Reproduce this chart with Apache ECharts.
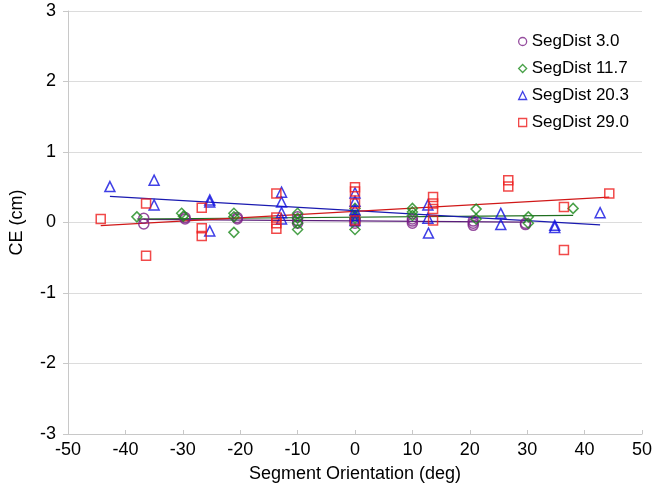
<!DOCTYPE html>
<html>
<head>
<meta charset="utf-8">
<script src="https://cdn.jsdelivr.net/npm/echarts@6/dist/echarts.min.js"></script>
<style>
  html, body { margin: 0; padding: 0; background: #fff; }
  #chart { width: 656px; height: 495px; }
</style>
</head>
<body>
<div id="chart"></div>
<script>
// series names as in the legend
const seriesNames = ['SegDist 3.0', 'SegDist 11.7', 'SegDist 20.3', 'SegDist 29.0'];

// [orientation (deg), CE (cm)]
const seg30 = [
  [-36.8, 0.06], [-36.8, -0.02], [-29.6, 0.05], [-29.6, 0.07],
  [-20.5, 0.05], [-20.5, 0.07], [-10, 0.08], [-10, 0.03], [-10, -0.01],
  [0, 0.02], [0, -0.01], [0, 0.05], [10, 0.05], [10, -0.01], [10, 0.02],
  [20.6, -0.01], [20.6, -0.04], [20.6, 0.02], [29.7, -0.01], [29.7, -0.03]
];
const seg117 = [
  [-38, 0.08], [-30.2, 0.13], [-29.9, 0.09], [-21.1, 0.13], [-21.1, 0.08],
  [-21.1, -0.14], [-10, 0.13], [-10, 0.06], [-10, -0.01], [-10, -0.1],
  [0, 0.2], [0, 0.1], [0, 0.06], [0, -0.1], [10, 0.2], [10, 0.15], [10, 0.1],
  [21.1, 0.19], [21.1, 0.05], [30.2, 0.08], [30.2, -0.01], [38, 0.2]
];
const seg203 = [
  [-42.7, 0.51], [-35, 0.6], [-35, 0.25], [-25.3, 0.32], [-25.3, 0.29],
  [-25.3, -0.12], [-12.8, 0.43], [-12.8, 0.29], [-12.8, 0.14], [-12.8, 0.05],
  [0, 0.42], [0, 0.3], [0, 0.18], [0, 0.1], [0, 0.03], [12.7, 0.25],
  [12.7, 0.06], [12.8, -0.15], [25.4, 0.13], [25.4, -0.03], [34.8, -0.04],
  [34.8, -0.07], [42.7, 0.14]
];
const seg290 = [
  [-44.3, 0.05], [-36.4, 0.27], [-36.4, -0.47], [-26.7, 0.21], [-26.7, -0.08],
  [-26.7, -0.19], [-13.7, 0.41], [-13.7, 0.07], [-13.7, -0.01], [-13.7, -0.09],
  [0, 0.5], [0, 0.44], [0, 0.27], [0, 0.03], [13.6, 0.36], [13.6, 0.27],
  [13.6, 0.19], [13.6, 0.03], [26.7, 0.6], [26.7, 0.51], [36.4, 0.22],
  [36.4, -0.39], [44.3, 0.41]
];

// linear trend lines, end points
const trend30 = [[-36.8, 0.045], [29.7, 0.005]];
const trend117 = [[-38, 0.05], [38, 0.10]];
const trend203 = [[-42.7, 0.37], [42.7, -0.035]];
const trend290 = [[-44.3, -0.045], [44.3, 0.36]];

const xTicks = [-50, 50, 10];   // min, max, interval
const yTicks = [-3, 3, 1];

const colors = ['#7a1f86', '#1b8a1b', '#1010e0', '#ee1c1c'];
const lineColors = ['#5a1d7a', '#1f6e1f', '#1a1ab0', '#d01818'];
const symbols = ['circle', 'diamond', 'triangle', 'rect'];
const sizes = [10, 10, 10, 9];
const pointSets = [seg30, seg117, seg203, seg290];
const trendSets = [trend30, trend117, trend203, trend290];

const myChart = echarts.init(document.getElementById('chart'));

const series = [];
trendSets.forEach((t, i) => {
  series.push({
    name: 'trend' + i,
    type: 'line',
    data: t,
    symbol: 'none',
    silent: true,
    lineStyle: { color: lineColors[i], width: 1.2 },
    z: 1
  });
});
pointSets.forEach((pts, i) => {
  series.push({
    name: seriesNames[i],
    type: 'scatter',
    data: pts,
    symbol: symbols[i],
    symbolSize: sizes[i],
    itemStyle: { color: 'rgba(0,0,0,0)', borderColor: colors[i], borderWidth: 1.5 },
    z: 2
  });
});

const option = {
  animation: false,
  textStyle: { fontFamily: 'Liberation Sans, Arial, sans-serif' },
  grid: { left: 68, right: 14, top: 11, bottom: 61 },
  legend: {
    data: seriesNames.map((n, i) => ({
      name: n,
      icon: symbols[i],
      itemStyle: { color: 'rgba(0,0,0,0)', borderColor: colors[i], borderWidth: 1.3 }
    })),
    orient: 'vertical',
    left: 513,
    top: 28,
    itemWidth: 8,
    itemHeight: 8,
    itemGap: 10,
    textStyle: { fontSize: 17, color: '#000' }
  },
  xAxis: {
    type: 'value',
    min: xTicks[0], max: xTicks[1], interval: xTicks[2],
    name: 'Segment Orientation (deg)',
    nameLocation: 'middle',
    nameGap: 31,
    nameTextStyle: { fontSize: 18, color: '#000' },
    axisLine: { onZero: false, lineStyle: { color: '#c8c8c8' } },
    axisTick: { show: true, inside: true, length: 4, lineStyle: { color: '#c8c8c8' } },
    axisLabel: { fontSize: 18, color: '#000', margin: 7 },
    splitLine: { show: false }
  },
  yAxis: {
    type: 'value',
    min: yTicks[0], max: yTicks[1], interval: yTicks[2],
    name: 'CE (cm)',
    nameLocation: 'middle',
    nameGap: 42,
    nameTextStyle: { fontSize: 18, color: '#000' },
    axisLine: { show: true, onZero: false, lineStyle: { color: '#c8c8c8' } },
    axisTick: { show: true, length: 5, lineStyle: { color: '#c8c8c8' } },
    axisLabel: { fontSize: 18, color: '#000', margin: 12 },
    splitLine: { lineStyle: { color: '#dcdcdc' } }
  },
  series: series
};

option && myChart.setOption(option);
</script>
</body>
</html>
